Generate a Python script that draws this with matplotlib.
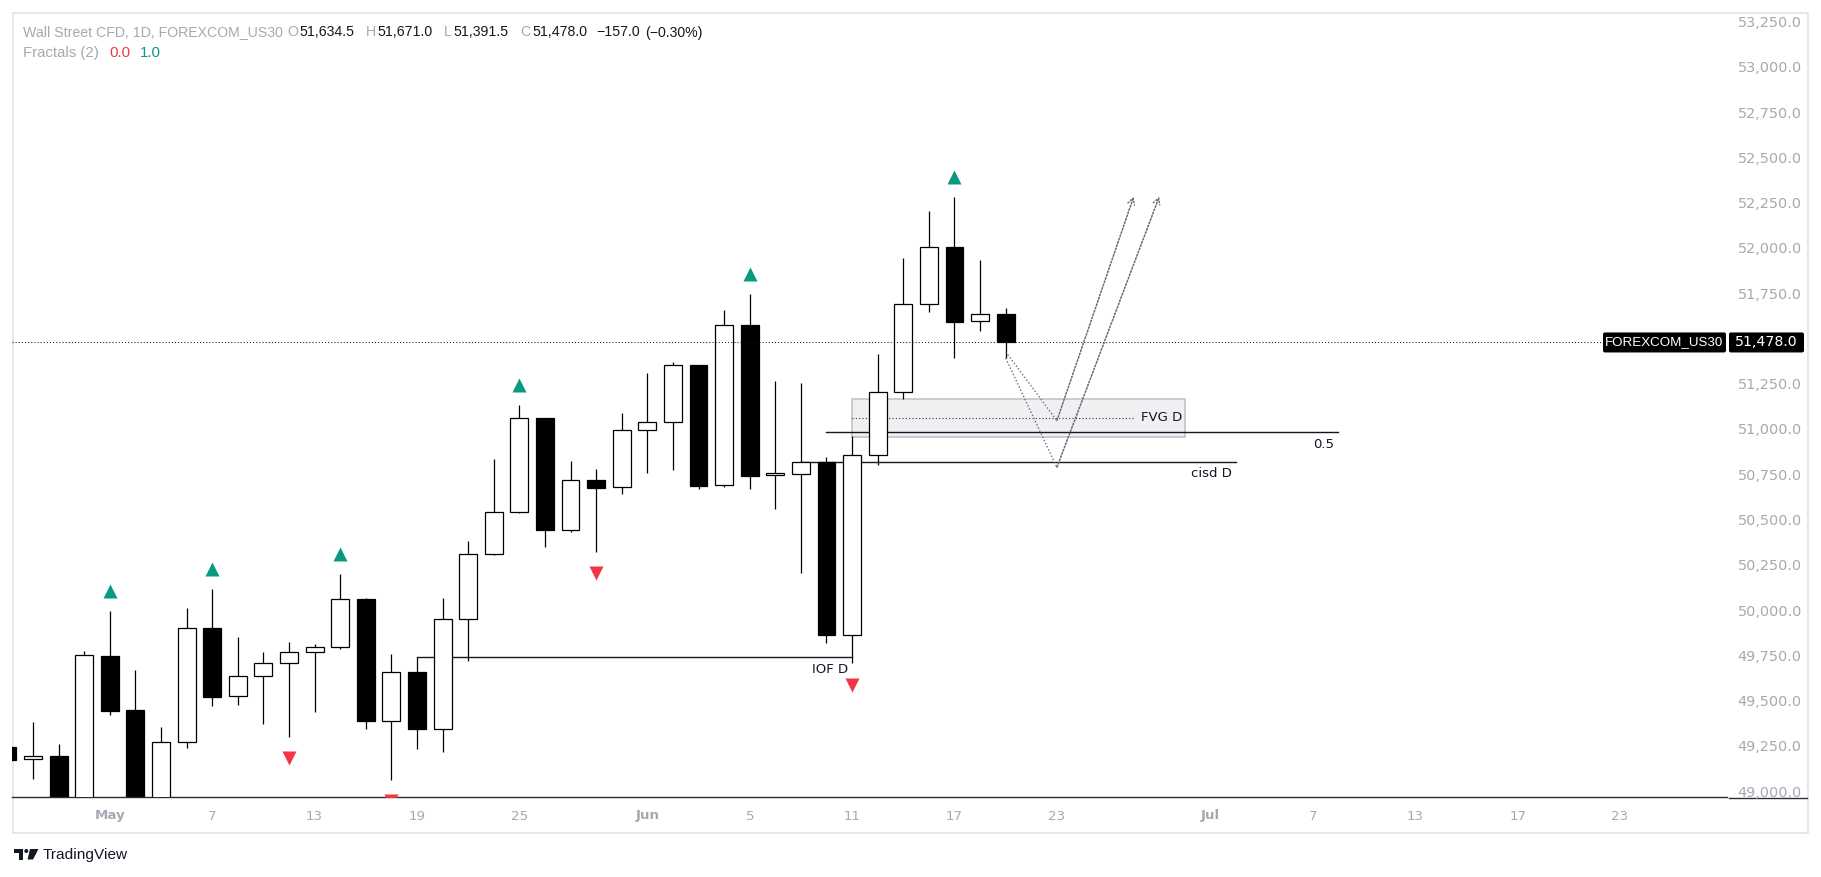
import matplotlib
matplotlib.use("Agg")
import matplotlib.pyplot as plt
import matplotlib.patches as patches
import matplotlib.transforms as mtransforms
import numpy as np

plt.rcParams['font.family'] = ['Liberation Sans', 'DejaVu Sans']

# daily bars (weekdays), index 0 = May 1
bar_idx = list(range(-4, 36))
opens = [49245, 49175, 49191, 48920, 49744, 49446, 48900, 49269, 49899, 49523,
         49634, 49705, 49766, 49794, 50059, 49388, 49656, 49344, 49953, 50312,
         50539, 51058, 50440, 50716, 50677, 50997, 51036, 51354, 50688, 51572,
         50746, 50754, 50820, 49860, 50854, 51203, 51693, 52006, 51594, 51634.5]
highs = [49262, 49380, 49260, 49774, 49995, 49668, 49354, 50009, 50116, 49851,
         49768, 49823, 49812, 50199, 50065, 49755, 49742, 50069, 50379, 50834,
         51133, 51060, 50823, 50779, 51088, 51309, 51370, 51356, 51655, 51746,
         51264, 51252, 50846, 50961, 51414, 51945, 52205, 52282, 51934, 51671.0]
lows = [49140, 49068, 48850, 48880, 49422, 48850, 48860, 49239, 49471, 49477,
        49372, 49300, 49438, 49783, 49344, 49062, 49234, 49217, 49720, 50305,
        50535, 50350, 50429, 50322, 50642, 50759, 50775, 50671, 50682, 50671,
        50560, 50206, 49819, 49705, 50799, 51168, 51648, 51394, 51543, 51391.5]
closes = [49171, 49191, 48900, 49750, 49444, 48880, 49269, 49899, 49521, 49634,
          49705, 49766, 49794, 50059, 49388, 49656, 49344, 49953, 50312, 50539,
          51058, 50440, 50716, 50675, 50997, 51036, 51354, 50684, 51572, 50741,
          50757, 50820, 49860, 50854, 51203, 51690, 52006, 51593, 51635, 51478.0]

up_fractals = [0, 4, 9, 16, 25, 33]
down_fractals = [7, 11, 19, 29]

tick_pos = [0, 4, 8, 12, 16, 21, 25, 29, 33, 37, 43, 47, 51, 55, 59]
tick_text = ['May', '7', '13', '19', '25', 'Jun', '5', '11', '17', '23',
             'Jul', '7', '13', '17', '23']
month_names = ['May', 'Jun', 'Jul']
price_ticks = np.arange(49000, 53251, 250)

last_price = 51478.0

# drawings on the chart
fvg_x = [29, 42]
fvg_y = [50954, 51168]
fvg_mid = 51062
half_x = [28, 48]
half_y = 50982
cisd_x = [27, 44]
cisd_y = 50820
iof_x = [12, 29]
iof_y = 49740
path_a_x = [35, 37, 40]
path_a_y = [51427, 51046, 52283]
path_b_x = [35, 37, 41]
path_b_y = [51391.5, 50788, 52283]

W, H = 1821, 877
GRAY = '#a6a9b1'
INK = '#131722'
fig = plt.figure(figsize=(W / 100, H / 100), dpi=100)
fig.patch.set_facecolor('white')

ax = fig.add_axes([12 / W, (H - 797) / H, (1727 - 12) / W, (797 - 13) / H])
ax.set_xlim(-3.82, 63.18)
ax.set_ylim(48967, 53298)

# candles
x = np.array(bar_idx)
o = np.array(opens)
c = np.array(closes)
rising = c >= o
ax.vlines(x, lows, highs, color='black', lw=0.9, zorder=3)
body_low = np.minimum(o, c)
body_h = np.maximum(np.abs(c - o), 6)
ax.bar(x, body_h, bottom=body_low, width=0.7,
       color=np.where(rising, 'white', 'black'), edgecolor='black',
       linewidth=0.9, zorder=4)

# fractals
hi = dict(zip(bar_idx, highs))
lo = dict(zip(bar_idx, lows))
up_tr = mtransforms.offset_copy(ax.transData, fig=fig, y=14.5, units='points')
dn_tr = mtransforms.offset_copy(ax.transData, fig=fig, y=-15.5, units='points')
ax.plot(up_fractals, [hi[i] for i in up_fractals], '^', ms=10,
        color='#089981', mec='none', transform=up_tr, zorder=5)
ax.plot(down_fractals, [lo[i] for i in down_fractals], 'v', ms=10,
        color='#f23645', mec='none', transform=dn_tr, zorder=5)

# FVG box
ax.add_patch(patches.Rectangle((fvg_x[0], fvg_y[0]), fvg_x[1] - fvg_x[0],
                               fvg_y[1] - fvg_y[0], facecolor='#f0f0f3',
                               edgecolor='#c4c4c8', lw=1.2, zorder=1))
ax.plot([fvg_x[0], fvg_x[1] - 2], [fvg_mid, fvg_mid], color='#333333',
        lw=0.8, ls=(0, (1, 2)), zorder=1.5)
ax.annotate('FVG D', xy=(fvg_x[1], fvg_mid), xytext=(-2, 0),
            textcoords='offset points', ha='right', va='center',
            fontsize=9.5, color=INK, family='DejaVu Sans', zorder=2)

# horizontal levels
for xs, yv, lab in [(half_x, half_y, '0.5'), (cisd_x, cisd_y, 'cisd D'),
                    (iof_x, iof_y, 'IOF D')]:
    ax.plot(xs, [yv, yv], color=INK, lw=1.0, zorder=2)
    ax.annotate(lab, xy=(xs[1], yv), xytext=(-3, -4),
                textcoords='offset points', ha='right', va='top',
                fontsize=9.5, color=INK, family='DejaVu Sans', zorder=2)

# last price line
ax.axhline(last_price, color=INK, lw=0.75, ls=(0, (1, 2)), zorder=4.5)

# projected paths
for px, py in [(path_a_x, path_a_y), (path_b_x, path_b_y)]:
    ax.plot(px, py, color='#6a6d78', lw=1.0, ls=(0, (1, 1.5)), zorder=6)
    ax.annotate('', xy=(px[-1], py[-1]), xytext=(px[-2], py[-2]),
                arrowprops=dict(arrowstyle='->,head_length=0.45,head_width=0.25',
                                color='#6a6d78', lw=1.0, ls=(0, (1, 1.5)),
                                shrinkA=0, shrinkB=0), zorder=6)

# axes styling
for s in ['top', 'left', 'right']:
    ax.spines[s].set_visible(False)
ax.spines['bottom'].set_color('#2a2e39')
ax.spines['bottom'].set_linewidth(1.0)
ax.yaxis.tick_right()
ax.set_yticks(price_ticks)
ax.set_yticklabels(['{:,.1f}'.format(v) for v in price_ticks])
ax.tick_params(axis='y', length=0, pad=7.7, labelsize=10.4, labelcolor=GRAY)
ax.set_xticks(tick_pos)
ax.set_xticklabels(tick_text)
ax.tick_params(axis='x', length=0, pad=9, labelsize=9.6, labelcolor=GRAY)
for lab in ax.get_yticklabels() + ax.get_xticklabels():
    lab.set_family('DejaVu Sans')
for lab in ax.get_xticklabels():
    if lab.get_text() in month_names:
        lab.set_fontweight('bold')
ax.set_facecolor('none')

# overlay in pixel coordinates for frame, header, labels and logo
ov = fig.add_axes([0, 0, 1, 1], zorder=-1)
ov.set_xlim(0, W)
ov.set_ylim(H, 0)
ov.axis('off')
ov.add_patch(patches.Rectangle((12.5, 13), 1808 - 12.5, 833 - 13, fill=False,
                               edgecolor='#e0e3eb', lw=1.2))
ov.plot([1729, 1807], [797.5, 797.5], color='#2a2e39', lw=1.0)

top = fig.add_axes([0, 0, 1, 1], zorder=10)
top.set_xlim(0, W)
top.set_ylim(H, 0)
top.axis('off')

# label boxes on the price scale
yl = ax.transData.transform((0, last_price))[1]
yl = H - yl
top.add_patch(patches.FancyBboxPatch((1603, yl - 10), 123, 20,
                                     boxstyle='round,pad=0,rounding_size=2',
                                     facecolor='black', edgecolor='none'))
top.text(1664.5, yl, 'FOREXCOM_US30', color='white', fontsize=9.6,
         ha='center', va='center')
top.add_patch(patches.FancyBboxPatch((1729, yl - 10), 75, 20,
                                     boxstyle='round,pad=0,rounding_size=2',
                                     facecolor='black', edgecolor='none'))
top.text(1766.5, yl, '{:,.1f}'.format(last_price), color='white', fontsize=10.2,
         ha='center', va='center', family='DejaVu Sans')

# header rows
renderer = fig.canvas.get_renderer()


def put_row(pieces, x0, y0, size):
    xx = x0
    for txt, col, gap in pieces:
        t = top.text(xx, y0, txt, color=col, fontsize=size, ha='left',
                     va='center')
        bb = t.get_window_extent(renderer=renderer)
        xx += bb.width + gap


chg = closes[-1] - closes[-2]
pct = chg / closes[-2] * 100
put_row([('Wall Street CFD, 1D, FOREXCOM_US30', GRAY, 4),
         ('O', GRAY, 2), ('{:,.1f}'.format(opens[-1]), INK, 11),
         ('H', GRAY, 2), ('{:,.1f}'.format(highs[-1]), INK, 11),
         ('L', GRAY, 2), ('{:,.1f}'.format(lows[-1]), INK, 11),
         ('C', GRAY, 2), ('{:,.1f}'.format(closes[-1]), INK, 9),
         ('\u2212{:.1f}'.format(abs(chg)), INK, 5),
         ('(\u2212{:.2f}%)'.format(abs(pct)), INK, 0)], 23, 32.5, 10.2)
put_row([('Fractals (2)', GRAY, 10), ('0.0', '#f23645', 10),
         ('1.0', '#089981', 0)], 23, 53.4, 10.8)

# logo
top.add_patch(patches.Rectangle((13.5, 849), 9.5, 3.5, color=INK, lw=0))
top.add_patch(patches.Rectangle((18.5, 849), 4.5, 10.5, color=INK, lw=0))
top.add_patch(patches.Circle((26.3, 851), 2.0, color=INK, lw=0))
top.add_patch(patches.Polygon([(30, 849), (38.5, 849), (33, 859.5), (27.5, 859.5)],
                              closed=True, color=INK, lw=0))
top.text(43, 855, 'TradingView', color=INK, fontsize=11.1, ha='left',
         va='center')

fig.savefig('out.png', dpi=100, facecolor='white')
